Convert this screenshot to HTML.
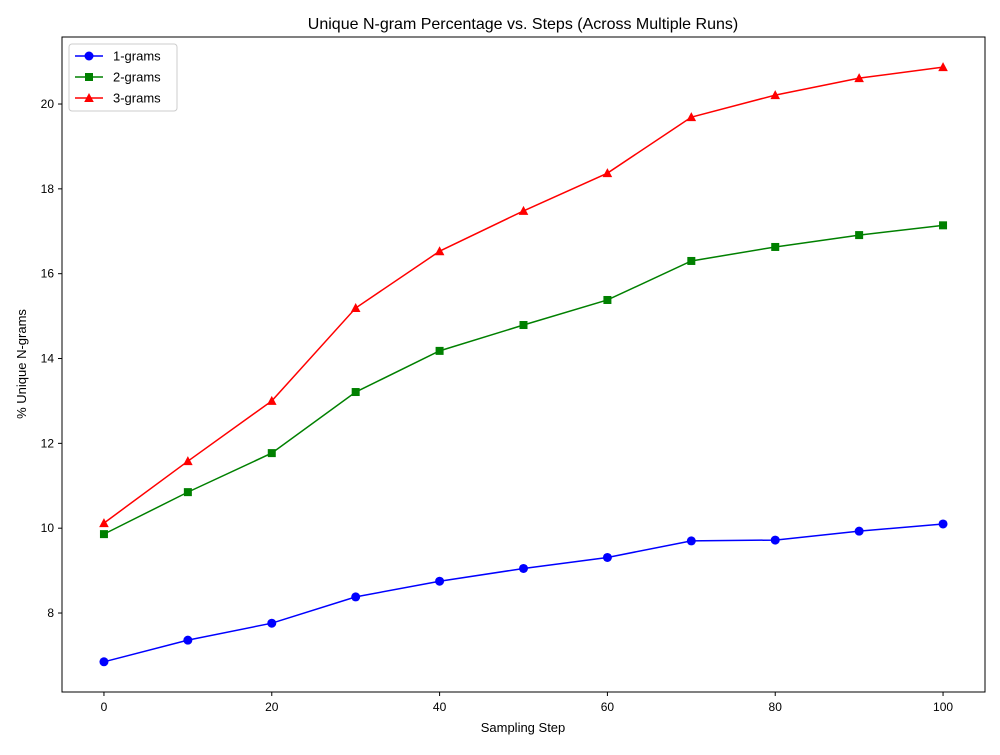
<!DOCTYPE html>
<html><head><meta charset="utf-8"><style>
body{margin:0;background:#fff;}
svg text{font-family:"Liberation Sans","DejaVu Sans",sans-serif;}
</style></head><body>
<svg id="chart" width="1000" height="750" xmlns="http://www.w3.org/2000/svg"></svg>
<script>
const steps=[0,10,20,30,40,50,60,70,80,90,100];
const uni=[6.85,7.36,7.76,8.38,8.75,9.05,9.31,9.70,9.72,9.93,10.10];
const bi=[9.86,10.85,11.77,13.21,14.18,14.79,15.38,16.30,16.63,16.91,17.14];
const tri=[10.12,11.58,13.00,15.19,16.53,17.48,18.37,19.69,20.21,20.61,20.87];
const xTicks=[0,20,40,60,80,100];
const yTicks=[8,10,12,14,16,18,20];
const L=62,R=985,T=37,B=692;
const xMin=-5,xMax=105,yMin=6.138,yMax=21.58;
const sx=v=>L+(v-xMin)/(xMax-xMin)*(R-L);
const sy=v=>B-(v-yMin)/(yMax-yMin)*(B-T);
const svg=document.getElementById('chart');
const NS='http://www.w3.org/2000/svg';
function mk(tag,attrs,parent){const e=document.createElementNS(NS,tag);for(const k in attrs)e.setAttribute(k,attrs[k]);(parent||svg).appendChild(e);return e;}
function txt(s,attrs){const e=mk('text',attrs);e.textContent=s;return e;}
let t=txt('Unique N-gram Percentage vs. Steps (Across Multiple Runs)',{x:523,y:29,'text-anchor':'middle','font-size':16});


t=txt('Sampling Step',{x:523,y:732,'text-anchor':'middle','font-size':13});


t=txt('% Unique N-grams',{x:0,y:0,'text-anchor':'middle','font-size':13,transform:'translate(26,364) rotate(-90)'});


xTicks.forEach(v=>{
  mk('line',{x1:sx(v),x2:sx(v),y1:B,y2:B+4,stroke:'#000'});
  const e=txt(String(v),{x:sx(v),y:B+19,'text-anchor':'middle','font-size':12});
  
  
});
yTicks.forEach(v=>{
  mk('line',{x1:L-4,x2:L,y1:sy(v),y2:sy(v),stroke:'#000'});
  const e=txt(String(v),{x:L-8,y:sy(v)+4,'text-anchor':'end','font-size':12});
  
  
});
function marker(g,type,x,y,c){
  if(type==='o')mk('circle',{cx:x,cy:y,r:4.5,fill:c},g);
  else if(type==='s')mk('rect',{x:x-4,y:y-4,width:8,height:8,fill:c},g);
  else mk('polygon',{points:`${x},${y-5} ${x-4.8},${y+4} ${x+4.8},${y+4}`,fill:c},g);
}
const series=[[uni,'blue','o','1-grams'],[bi,'green','s','2-grams'],[tri,'red','^','3-grams']];
series.forEach(([d,c,m,n])=>{
  const g=mk('g',{});
  
  
  mk('polyline',{points:d.map((v,i)=>sx(steps[i])+','+sy(v)).join(' '),fill:'none',stroke:c,'stroke-width':1.5},g);
  d.forEach((v,i)=>marker(g,m,sx(steps[i]),sy(v),c));
});
const frame=mk('rect',{x:L,y:T,width:R-L,height:B-T,fill:'none',stroke:'#000','stroke-width':1});


const lg=mk('g',{});


mk('rect',{x:69,y:44,width:108,height:67,rx:3,fill:'#fff',stroke:'#ccc'},lg);
series.forEach(([d,c,m,n],i)=>{
  const y=56+i*21;
  const eg=mk('g',{},lg);
  
  
  mk('line',{x1:75,x2:103,y1:y,y2:y,stroke:c,'stroke-width':1.5},eg);
  marker(eg,m,89,y,c);
  const e=mk('text',{x:113,y:y+4.5,'font-size':13},eg);e.textContent=n;
});
</script>
</body></html>
